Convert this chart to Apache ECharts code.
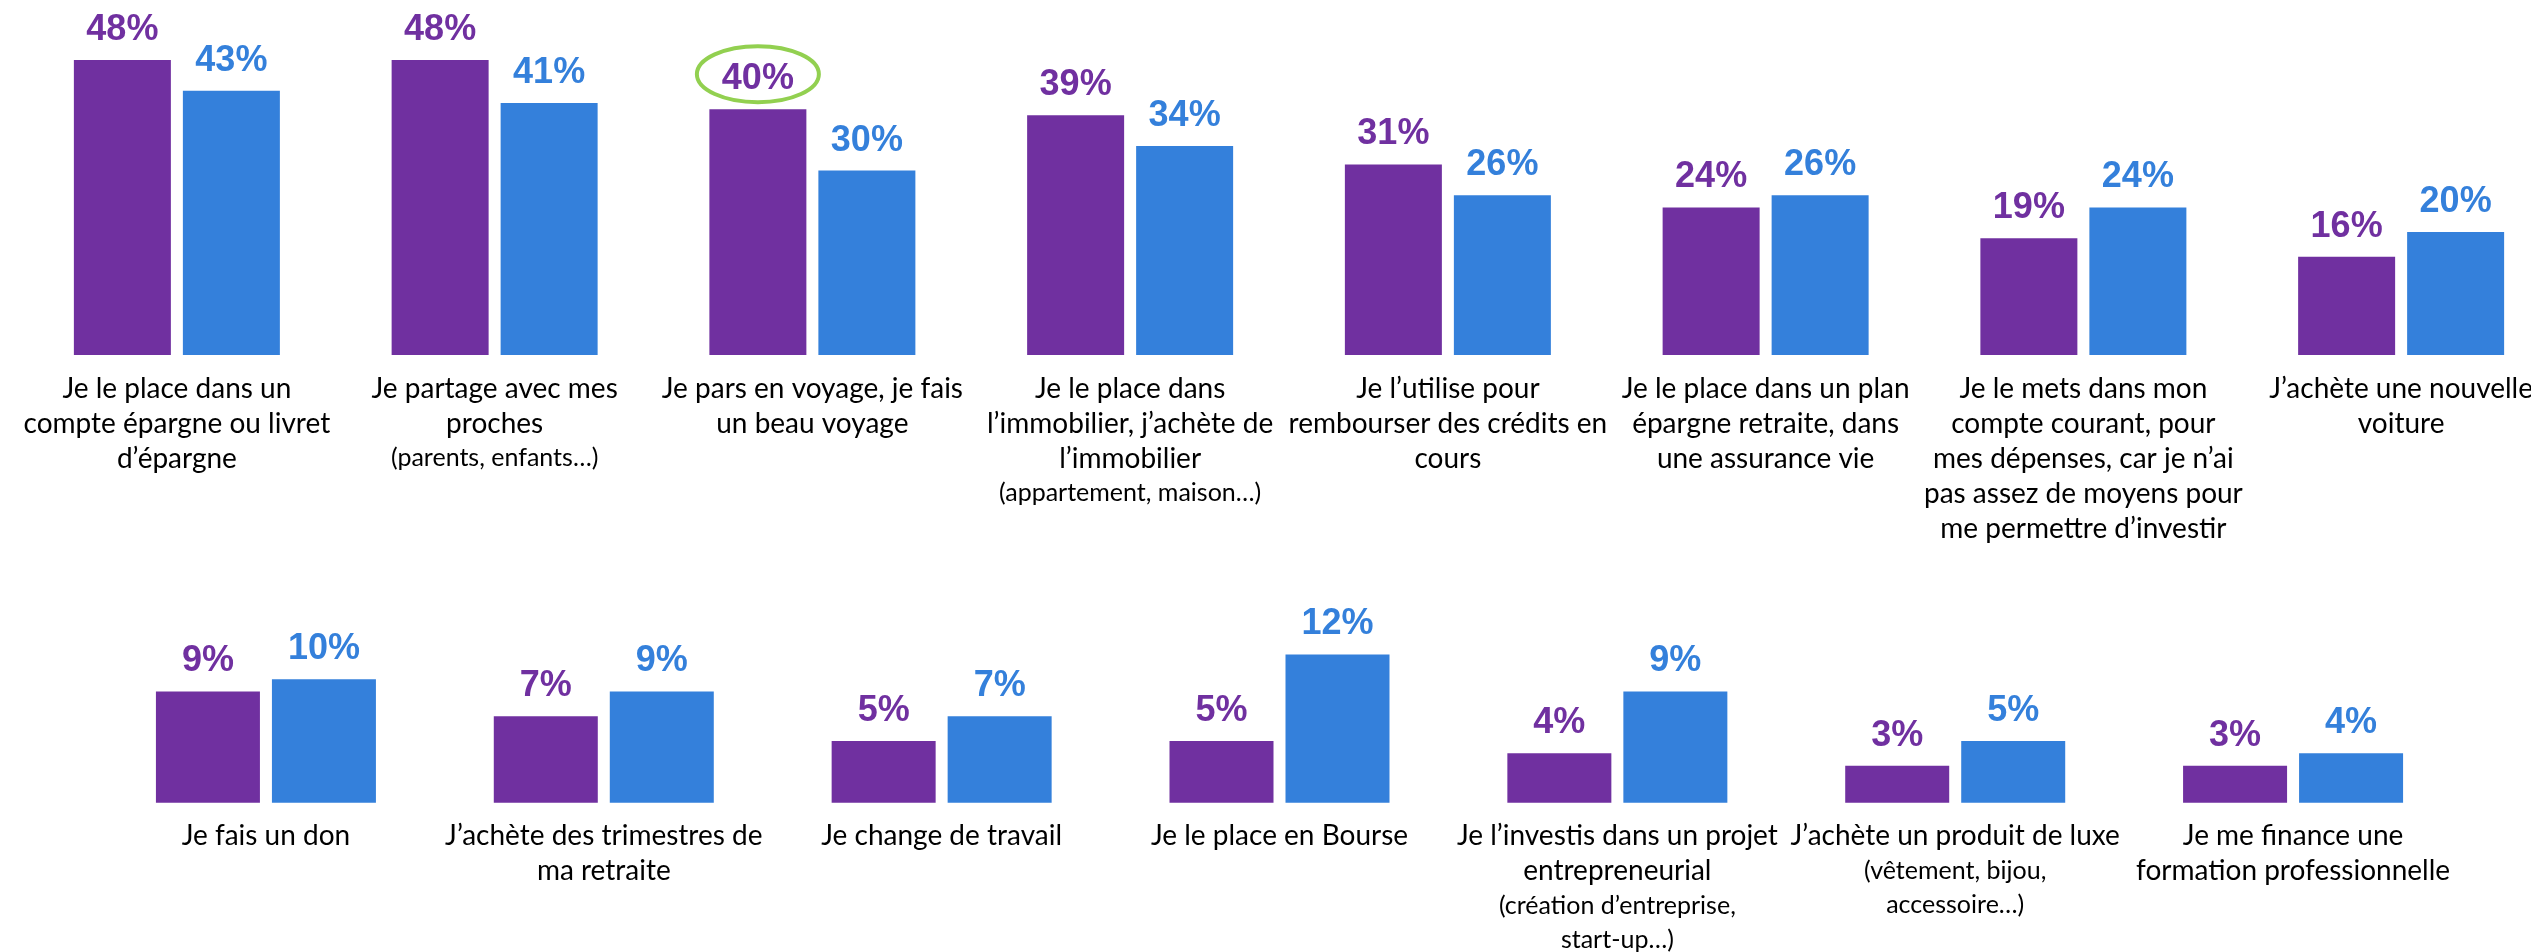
<!DOCTYPE html>
<html>
<head>
<meta charset="utf-8">
<script src="https://cdn.jsdelivr.net/npm/echarts@6/dist/echarts.min.js"></script>
<style>
  html, body { margin: 0; padding: 0; background: #ffffff; }
  #chart { width: 2531px; height: 952px; }
</style>
</head>
<body>
<div id="chart"></div>
<script>
// Top row: answers 1–8
const topCategories = [
  'Je le place dans un\ncompte épargne ou livret\nd’épargne',
  'Je partage avec mes\nproches',
  'Je pars en voyage, je fais\nun beau voyage',
  'Je le place dans\nl’immobilier, j’achète de\nl’immobilier',
  'Je l’utilise pour\nrembourser des crédits en\ncours',
  'Je le place dans un plan\népargne retraite, dans\nune assurance vie',
  'Je le mets dans mon\ncompte courant, pour\nmes dépenses, car je n’ai\npas assez de moyens pour\nme permettre d’investir',
  'J’achète une nouvelle\nvoiture'
];
const topNotes = ['', '(parents, enfants…)', '', '(appartement, maison…)', '', '', '', ''];
const topSeriesA = [48, 48, 40, 39, 31, 24, 19, 16];
const topSeriesB = [43, 41, 30, 34, 26, 26, 24, 20];

// Bottom row: answers 9–15
const bottomCategories = [
  'Je fais un don',
  'J’achète des trimestres de\nma retraite',
  'Je change de travail',
  'Je le place en Bourse',
  'Je l’investis dans un projet\nentrepreneurial',
  'J’achète un produit de luxe',
  'Je me finance une\nformation professionnelle'
];
const bottomNotes = ['', '', '', '', '(création d’entreprise,\nstart-up…)', '(vêtement, bijou,\naccessoire…)', ''];
const bottomSeriesA = [9, 7, 5, 5, 4, 3, 3];
const bottomSeriesB = [10, 9, 7, 12, 9, 5, 4];

// Circled value: [category index in top row, value]
const circledPoints = [[2, 40]];

const PURPLE = '#7030A0';
const BLUE = '#3480DB';
const GREEN = '#92D050';

const LABEL_FONT = 'Lato, "Open Sans", sans-serif';
const VALUE_FONT = '"Liberation Sans", Arial, sans-serif';

const TOP_BAR_W = 97, TOP_GAP = 12;
const BOT_BAR_W = 104, BOT_GAP = 12;

function categoryLabel(notes) {
  return function (value, idx) {
    const note = notes[idx];
    if (!note) return value;
    return value + '\n' + note.split('\n').map(l => '{note|' + l + '}').join('\n');
  };
}

function axisLabelStyle(notes) {
  return {
    interval: 0,
    margin: 16,
    color: '#000000',
    fontFamily: LABEL_FONT,
    fontSize: 28,
    lineHeight: 35,
    align: 'center',
    formatter: categoryLabel(notes),
    rich: {
      note: { fontFamily: LABEL_FONT, fontSize: 25, lineHeight: 34, color: '#000000' }
    }
  };
}

function valueLabel(color) {
  return {
    show: true,
    position: 'top',
    distance: 12,
    formatter: '{c}%',
    color: color,
    fontFamily: VALUE_FONT,
    fontWeight: 'bold',
    fontSize: 36
  };
}

const chart = echarts.init(document.getElementById('chart'), null, { renderer: 'canvas' });

chart.setOption({
  backgroundColor: '#ffffff',
  animation: false,
  grid: [
    { left: 18, top: 47.7, width: 2542, height: 307.3, outerBoundsMode: 'none', containLabel: false },
    { left: 97, top: 629.8, width: 2365, height: 172.9, outerBoundsMode: 'none', containLabel: false }
  ],
  xAxis: [
    {
      type: 'category', gridIndex: 0, data: topCategories,
      axisLine: { show: false }, axisTick: { show: false },
      axisLabel: axisLabelStyle(topNotes)
    },
    {
      type: 'category', gridIndex: 1, data: bottomCategories,
      axisLine: { show: false }, axisTick: { show: false },
      axisLabel: axisLabelStyle(bottomNotes)
    }
  ],
  yAxis: [
    { type: 'value', gridIndex: 0, min: 0, max: 50, show: false },
    { type: 'value', gridIndex: 1, min: 0, max: 14, show: false }
  ],
  series: [
    {
      name: 'A', type: 'bar', xAxisIndex: 0, yAxisIndex: 0,
      data: topSeriesA, barWidth: TOP_BAR_W, barGap: (TOP_GAP / TOP_BAR_W * 100) + '%',
      itemStyle: { color: PURPLE }, label: valueLabel(PURPLE)
    },
    {
      name: 'B', type: 'bar', xAxisIndex: 0, yAxisIndex: 0,
      data: topSeriesB, barWidth: TOP_BAR_W,
      itemStyle: { color: BLUE }, label: valueLabel(BLUE)
    },
    {
      name: 'A', type: 'bar', xAxisIndex: 1, yAxisIndex: 1,
      data: bottomSeriesA, barWidth: BOT_BAR_W, barGap: (BOT_GAP / BOT_BAR_W * 100) + '%',
      itemStyle: { color: PURPLE }, label: valueLabel(PURPLE)
    },
    {
      name: 'B', type: 'bar', xAxisIndex: 1, yAxisIndex: 1,
      data: bottomSeriesB, barWidth: BOT_BAR_W,
      itemStyle: { color: BLUE }, label: valueLabel(BLUE)
    },
    {
      // green ring around a highlighted value label (first bar of its group)
      type: 'custom', xAxisIndex: 0, yAxisIndex: 0, silent: true, z: 10,
      data: circledPoints,
      renderItem: function (params, api) {
        const p = api.coord([api.value(0), api.value(1)]);
        const cx = p[0] - (TOP_BAR_W + TOP_GAP) / 2;
        const cy = p[1] - 35;
        return {
          type: 'ellipse',
          shape: { cx: cx, cy: cy, rx: 61, ry: 28 },
          style: { fill: 'none', stroke: GREEN, lineWidth: 4 }
        };
      }
    }
  ]
});
</script>
</body>
</html>
